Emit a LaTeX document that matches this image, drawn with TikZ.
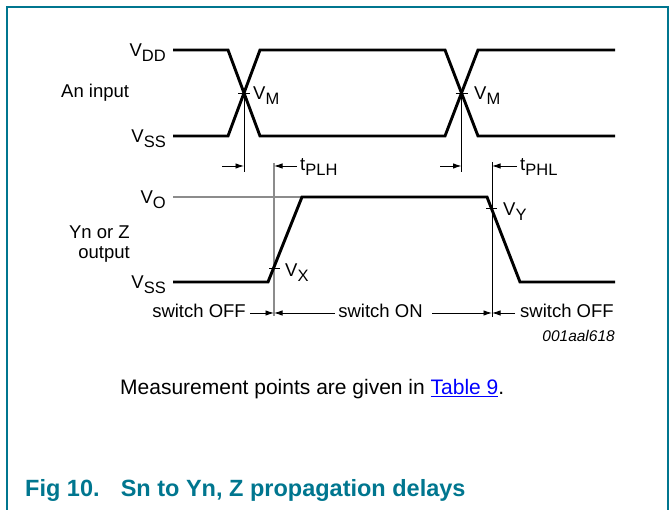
\documentclass[tikz,border=0pt]{standalone}
\usepackage{fontspec}
\setmainfont{Liberation Sans}
\usepackage{tikz}
\usetikzlibrary{arrows.meta, positioning, calc}
\definecolor{nxpteal}{RGB}{0,118,143}
\definecolor{linkblue}{RGB}{0,0,255}
\newcommand{\lowsub}[1]{\raisebox{-5pt}{\fontsize{16.5}{16.5}\selectfont #1}}

\begin{document}
\begin{tikzpicture}[
        x=1pt, y=-1pt,
        lbl/.style={inner sep=0pt, font=\fontsize{18.5}{20}\selectfont},
        wave/.style={line width=2.9pt, line join=miter},
        guide/.style={line width=0.9pt},
        grayguide/.style={line width=1.1pt, draw=black!45},
        arrow/.style={-{Latex[length=8.5pt,width=5.5pt]}, line width=0.9pt}
    ]
    \useasboundingbox (0,0) rectangle (670,510);

    % Frame
    \draw[nxpteal, line width=1.5pt] (7,510) -- (7,7) -- (668,7) -- (668,510);

    % Input waveform
    \draw[wave] (173,50) -- (228,50) -- (260,136) -- (445,136) -- (478,50) -- (615,50);
    \draw[wave] (173,136) -- (228,136) -- (260,50) -- (445,50) -- (478,136) -- (615,136);
    \node[lbl, anchor=base east] (vdd) at (166,57) {V\lowsub{DD}};
    \node[lbl, anchor=base west] (ain) at (61,98) {An input};
    \node[lbl, anchor=base east] (vssin) at (166,143) {V\lowsub{SS}};

    % Switching points
    \coordinate (m1) at (244,93);
    \coordinate (m2) at (461.5,93);
    \coordinate (m1b) at (244,172);
    \coordinate (m2b) at (461.5,172);
    \draw[guide] (m1) -- (m1b);
    \draw[guide] (m2) -- (m2b);
    \draw[guide] ([xshift=-6pt]m1) -- ([xshift=6pt]m1);
    \draw[guide] ([xshift=-6pt]m2) -- ([xshift=6pt]m2);
    \node[lbl, anchor=base west] (vm1) at (253,100) {V\lowsub{M}};
    \node[lbl, anchor=base west] (vm2) at (474,100) {V\lowsub{M}};

    % Delay markers
    \coordinate (x1top) at (274,163);
    \coordinate (x1bot) at (274,316);
    \coordinate (y1top) at (492,162);
    \coordinate (y1bot) at (492,317);
    \draw[grayguide] (x1top) -- (x1bot);
    \draw[guide] (y1top) -- (y1bot);
    \coordinate (a1) at (222,166);
    \coordinate (a2) at (440,166);
    \coordinate (t1) at (297,166);
    \coordinate (t2) at (517,166);
    \draw[arrow] (a1) -- (a1 -| m1);
    \draw[arrow] (a2) -- (a2 -| m2);
    \draw[arrow] (t1) -- (t1 -| x1top);
    \draw[arrow] (t2) -- (t2 -| y1top);
    \node[lbl, anchor=base west] (tplh) at (300,171) {t\lowsub{PLH}};
    \node[lbl, anchor=base west] (tphl) at (520,171) {t\lowsub{PHL}};

    % Output waveform
    \coordinate (vo) at (173,197);
    \draw[grayguide] (vo) -- (302,197);
    \draw[wave] (173,282) -- (268,282) -- (302,197) -- (487,197) -- (520,282) -- (615,282);
    \node[lbl, anchor=base east] (vout) at (166,204) {V\lowsub{O}};
    \node[lbl, anchor=east, align=right] (yout) at (130,244) {Yn or Z\\output};
    \node[lbl, anchor=base east] (vssout) at (166,289) {V\lowsub{SS}};
    \draw[guide] (269,268.5) -- (280,268.5);
    \draw[guide] (486,208) -- (497,208);
    \node[lbl, anchor=base west] (vx) at (285,277) {V\lowsub{X}};
    \node[lbl, anchor=base west] (vy) at (503,216) {V\lowsub{Y}};

    % Switch states
    \coordinate (s1) at (250,313);
    \coordinate (s2) at (335,313);
    \coordinate (s3) at (432,313);
    \coordinate (s4) at (515,313);
    \draw[arrow] (s1) -- (s1 -| x1top);
    \draw[arrow] (s2) -- (s2 -| x1top);
    \draw[arrow] (s3) -- (s3 -| y1top);
    \draw[arrow] (s4) -- (s4 -| y1top);
    \node[lbl, anchor=base east] (off1) at (246,318) {switch OFF};
    \node[lbl, anchor=base] (on1) at (380.5,318) {switch ON};
    \node[lbl, anchor=base west] (off2) at (520,318) {switch OFF};
    \node[inner sep=0pt, anchor=base east, font=\fontsize{15.5}{16}\selectfont\itshape] (code) at (615,342) {001aal618};

    % Note and title
    \node[inner sep=0pt, anchor=base west, font=\fontsize{21}{22}\selectfont] (note) at (120,395)
        {Measurement points are given in \textcolor{linkblue}{\underline{Table 9}}.};
    \node[inner sep=0pt, anchor=base west, text=nxpteal, font=\fontsize{23.5}{24}\selectfont\bfseries] (title) at (25,497)
        {Fig 10.\hspace{0.9em}Sn to Yn, Z propagation delays};
\end{tikzpicture}
\end{document}
